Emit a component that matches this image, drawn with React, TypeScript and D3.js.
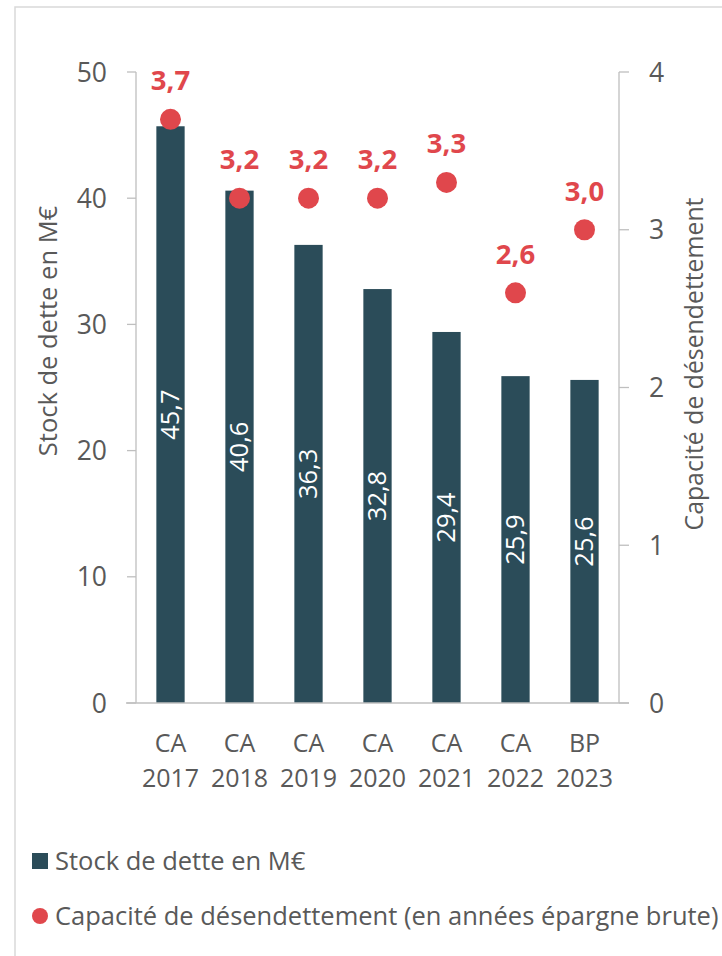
import React from "react";
import * as d3 from "d3";

const categories = ["CA 2017", "CA 2018", "CA 2019", "CA 2020", "CA 2021", "CA 2022", "BP 2023"];
const stock = [45.7, 40.6, 36.3, 32.8, 29.4, 25.9, 25.6];
const capacite = [3.7, 3.2, 3.2, 3.2, 3.3, 2.6, 3.0];
const leftTicks = [0, 10, 20, 30, 40, 50];
const rightTicks = [0, 1, 2, 3, 4];
const legendLabels = ["Stock de dette en M€", "Capacité de désendettement (en années épargne brute)"];

const W = 722, H = 956;
const BAR = "#2B4C59";
const RED = "#E0474C";
const GRAY = "#595959";
const AXIS = "#BFBFBF";
const FONT = "'Open Sans', sans-serif";
const fmt = (v: number) => v.toFixed(1).replace(".", ",");

export default function App() {
  const x = d3.scaleBand<string>().domain(categories).range([136, 619]).paddingInner(0.59).paddingOuter(0.295);
  const yL = d3.scaleLinear().domain([0, 50]).range([703, 72]);
  const yR = d3.scaleLinear().domain([0, 4]).range([703, 72]);
  const bw = x.bandwidth();

  return (
    <svg width={W} height={H} style={{ position: "absolute", left: 0, top: 0, background: "#fff" }} fontFamily={FONT}>
      <rect x={15} y={7} width={W + 20} height={H + 20} fill="#fff" stroke="#D9D9D9" strokeWidth={1.5} />
      {/* left axis */}
      <line x1={136} x2={136} y1={yL(50)} y2={yL(0)} stroke={AXIS} strokeWidth={1.3} />
      {leftTicks.map((t) => (
        <g key={"l" + t}>
          <line x1={127} x2={136} y1={yL(t)} y2={yL(t)} stroke={AXIS} strokeWidth={1.3} />
          <text x={107} y={yL(t)} dy="0.36em" textAnchor="end" fontSize={26.5} fill={GRAY}>{t}</text>
        </g>
      ))}
      {/* right axis */}
      <line x1={619} x2={619} y1={yR(4)} y2={yR(0)} stroke={AXIS} strokeWidth={1.3} />
      {rightTicks.map((t) => (
        <g key={"r" + t}>
          <line x1={619} x2={629} y1={yR(t)} y2={yR(t)} stroke={AXIS} strokeWidth={1.3} />
          <text x={649} y={yR(t)} dy="0.36em" textAnchor="start" fontSize={26.5} fill={GRAY}>{t}</text>
        </g>
      ))}
      {/* bars */}
      {categories.map((c, i) => {
        const x0 = x(c)!;
        const top = yL(stock[i]);
        const cy = (top + yL(0)) / 2;
        const cx = x0 + bw / 2;
        return (
          <g key={c}>
            <rect x={x0} y={top} width={bw} height={yL(0) - top} fill={BAR} />
            <text x={cx} y={cy} transform={`rotate(-90 ${cx} ${cy})`} textAnchor="middle" dy="0.35em" fontSize={25.5} fill="#fff">{fmt(stock[i])}</text>
          </g>
        );
      })}
      {/* baseline */}
      <line x1={126} x2={629} y1={yL(0)} y2={yL(0)} stroke={AXIS} strokeWidth={1.3} />
      {/* x labels */}
      {categories.map((c) => {
        const [a, b] = c.split(" ");
        const cx = x(c)! + bw / 2;
        return (
          <g key={"x" + c}>
            <text x={cx} y={752} textAnchor="middle" fontSize={25} fill={GRAY}>{a}</text>
            <text x={cx} y={787} textAnchor="middle" fontSize={25} fill={GRAY}>{b}</text>
          </g>
        );
      })}
      {/* dots */}
      {categories.map((c, i) => {
        const cx = x(c)! + bw / 2;
        const cy = yR(capacite[i]);
        return (
          <g key={"d" + c}>
            <circle cx={cx} cy={cy} r={10.5} fill={RED} />
            <text x={cx} y={cy - 29} textAnchor="middle" fontSize={27.5} fontWeight="bold" fill={RED}>{fmt(capacite[i])}</text>
          </g>
        );
      })}
      {/* axis titles */}
      <text transform="translate(57,331) rotate(-90)" textAnchor="middle" fontSize={25.5} fill={GRAY}>Stock de dette en M€</text>
      <text transform="translate(703,364) rotate(-90)" textAnchor="middle" fontSize={24.8} fill={GRAY}>Capacité de désendettement</text>
      {/* legend */}
      <rect x={32} y={853} width={16} height={16} fill={BAR} />
      <text x={55} y={861} dy="0.35em" fontSize={25.5} fill={GRAY}>{legendLabels[0]}</text>
      <circle cx={40} cy={916} r={8} fill={RED} />
      <text x={55} y={916} dy="0.35em" fontSize={25.5} fill={GRAY}>{legendLabels[1]}</text>
    </svg>
  );
}
